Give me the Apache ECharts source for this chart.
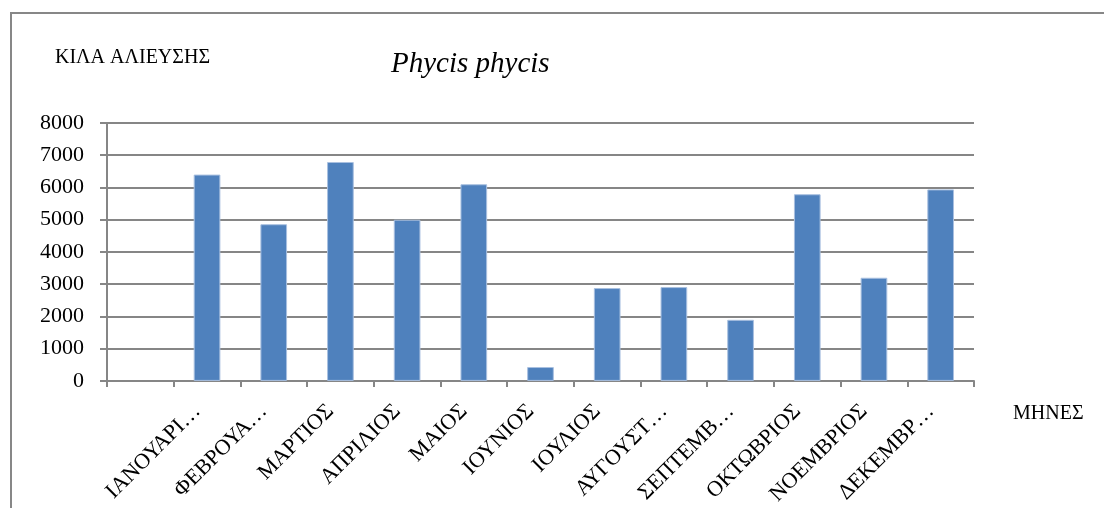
<!DOCTYPE html>
<html>
<head>
<meta charset="utf-8">
<script src="https://cdn.jsdelivr.net/npm/echarts@6/dist/echarts.min.js"></script>
<style>
  html, body { margin: 0; padding: 0; background: #fff; }
  #chart { width: 1104px; height: 508px; }
</style>
</head>
<body>
<div id="chart"></div>
<script>
// months (first slot is empty in the original sheet)
let months = ["", "ΙΑΝΟΥΑΡΙ…", "ΦΕΒΡΟΥΑ…", "ΜΑΡΤΙΟΣ", "ΑΠΡΙΛΙΟΣ", "ΜΑΙΟΣ", "ΙΟΥΝΙΟΣ",
    "ΙΟΥΛΙΟΣ", "ΑΥΓΟΥΣΤ…", "ΣΕΠΤΕΜΒ…", "ΟΚΤΩΒΡΙΟΣ", "ΝΟΕΜΒΡΙΟΣ", "ΔΕΚΕΜΒΡ…"];
// kilos caught
let kilos = [null, 6400, 4860, 6790, 5000, 6100, 430, 2880, 2910, 1895, 5790, 3200, 5940];

let yTicks = { min: 0, max: 8000, step: 1000 };

let titleText = "Phycis phycis";
let yName = "ΚΙΛΑ ΑΛΙΕΥΣΗΣ";
let xName = "ΜΗΝΕΣ";

let serif = "'Liberation Serif', 'DejaVu Serif', serif";

let chart = echarts.init(document.getElementById('chart'));

let option = {
    animation: false,
    title: [
        {
            text: titleText, left: 386, top: 45,
            textStyle: { fontFamily: serif, fontStyle: 'italic', fontWeight: 'normal', fontSize: 29, color: '#000' }
        },
        {
            text: yName, left: 50, top: 43,
            textStyle: { fontFamily: serif, fontWeight: 'normal', fontSize: 20, color: '#000' }
        },
        {
            text: xName, left: 1008, top: 399,
            textStyle: { fontFamily: serif, fontWeight: 'normal', fontSize: 20, color: '#000' }
        }
    ],
    graphic: [
        {
            type: 'rect', silent: true,
            shape: { x: 11, y: 13, width: 1200, height: 600 },
            style: { fill: 'none', stroke: '#878787', lineWidth: 2 }
        }
    ],
    grid: { left: 107, right: 130, top: 123, bottom: 127 },
    xAxis: {
        type: 'category',
        data: months,
        axisLine: { lineStyle: { color: '#868686', width: 2 } },
        axisTick: { show: true, length: 6, lineStyle: { color: '#868686', width: 2 } },
        axisLabel: {
            interval: 0, rotate: 45, margin: 17, padding: [0, 14, 0, 0],
            fontFamily: serif, fontSize: 22, color: '#000'
        },
        splitLine: { show: false }
    },
    yAxis: {
        type: 'value',
        min: yTicks.min, max: yTicks.max, interval: yTicks.step,
        axisLine: { show: true, lineStyle: { color: '#868686', width: 2 } },
        axisTick: { show: true, length: 7, lineStyle: { color: '#868686', width: 2 } },
        axisLabel: {
            fontFamily: serif, fontSize: 22, color: '#000', margin: 23,
            formatter: function (v) { return String(v); }
        },
        splitLine: { lineStyle: { color: '#868686', width: 2 } }
    },
    series: [
        {
            type: 'bar',
            data: kilos,
            barWidth: '40%',
            itemStyle: { color: '#4F81BD', borderColor: '#a9c0e0', borderWidth: 1 }
        }
    ]
};

chart.setOption(option);
</script>
</body>
</html>
